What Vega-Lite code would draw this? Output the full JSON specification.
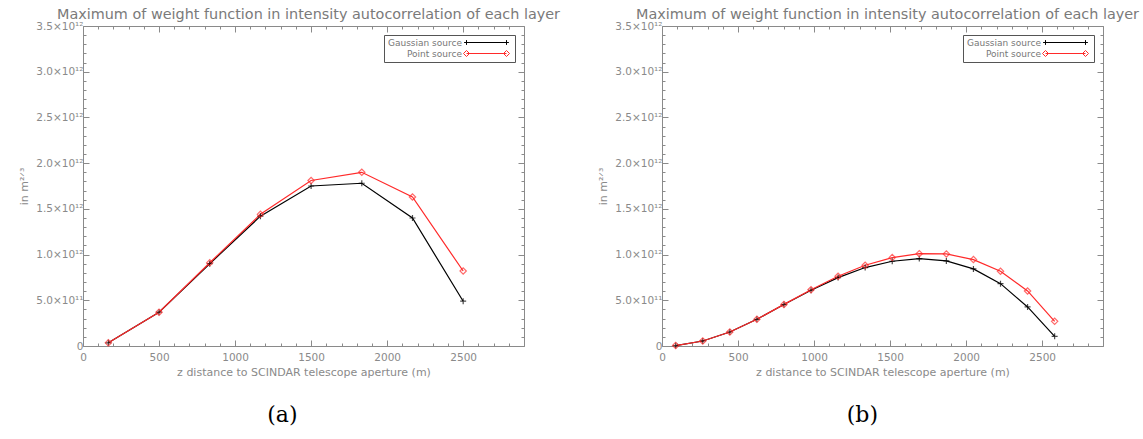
{
  "$schema": "https://vega.github.io/schema/vega-lite/v6.json",
  "background": "white",
  "padding": {"left": 18, "top": 6, "right": 0, "bottom": 5},
  "spacing": 36,
  "resolve": {"scale": {"color": "independent"}, "legend": {"color": "independent"}},
  "config": {
    "font": "DejaVu Sans",
    "view": {"stroke": null},
    "axis": {
      "grid": false,
      "domainColor": "#8a8a8a",
      "tickColor": "#8a8a8a",
      "labelColor": "#8a8a8a",
      "titleColor": "#8a8a8a",
      "labelFont": "DejaVu Sans",
      "titleFont": "DejaVu Sans",
      "labelFontSize": 10.5,
      "titleFontSize": 11,
      "titleFontWeight": "normal",
      "labelOverlap": false,
      "labelFlush": false,
      "domainWidth": 1,
      "tickWidth": 1
    },
    "legend": {
      "labelFont": "DejaVu Sans",
      "labelFontSize": 9,
      "labelColor": "#777777"
    }
  },
  "datasets": {
    "a": [
      {"z": 166.7, "w": 3.5e10, "series": "Gaussian source"},
      {"z": 500, "w": 3.7e11, "series": "Gaussian source"},
      {"z": 833.3, "w": 9.0e11, "series": "Gaussian source"},
      {"z": 1166.7, "w": 1.42e12, "series": "Gaussian source"},
      {"z": 1500, "w": 1.75e12, "series": "Gaussian source"},
      {"z": 1833.3, "w": 1.78e12, "series": "Gaussian source"},
      {"z": 2166.7, "w": 1.40e12, "series": "Gaussian source"},
      {"z": 2500, "w": 4.9e11, "series": "Gaussian source"},
      {"z": 166.7, "w": 3.5e10, "series": "Point source"},
      {"z": 500, "w": 3.7e11, "series": "Point source"},
      {"z": 833.3, "w": 9.1e11, "series": "Point source"},
      {"z": 1166.7, "w": 1.44e12, "series": "Point source"},
      {"z": 1500, "w": 1.81e12, "series": "Point source"},
      {"z": 1833.3, "w": 1.90e12, "series": "Point source"},
      {"z": 2166.7, "w": 1.63e12, "series": "Point source"},
      {"z": 2500, "w": 8.2e11, "series": "Point source"}
    ],
    "b": [
      {"z": 90, "w": 5e9, "series": "Gaussian source"},
      {"z": 268, "w": 5.5e10, "series": "Gaussian source"},
      {"z": 446, "w": 1.53e11, "series": "Gaussian source"},
      {"z": 624, "w": 2.92e11, "series": "Gaussian source"},
      {"z": 802, "w": 4.53e11, "series": "Gaussian source"},
      {"z": 980, "w": 6.1e11, "series": "Gaussian source"},
      {"z": 1158, "w": 7.48e11, "series": "Gaussian source"},
      {"z": 1336, "w": 8.58e11, "series": "Gaussian source"},
      {"z": 1514, "w": 9.27e11, "series": "Gaussian source"},
      {"z": 1692, "w": 9.56e11, "series": "Gaussian source"},
      {"z": 1870, "w": 9.31e11, "series": "Gaussian source"},
      {"z": 2048, "w": 8.43e11, "series": "Gaussian source"},
      {"z": 2226, "w": 6.82e11, "series": "Gaussian source"},
      {"z": 2404, "w": 4.27e11, "series": "Gaussian source"},
      {"z": 2582, "w": 1.06e11, "series": "Gaussian source"},
      {"z": 90, "w": 5e9, "series": "Point source"},
      {"z": 268, "w": 5.5e10, "series": "Point source"},
      {"z": 446, "w": 1.53e11, "series": "Point source"},
      {"z": 624, "w": 2.92e11, "series": "Point source"},
      {"z": 802, "w": 4.55e11, "series": "Point source"},
      {"z": 980, "w": 6.15e11, "series": "Point source"},
      {"z": 1158, "w": 7.63e11, "series": "Point source"},
      {"z": 1336, "w": 8.83e11, "series": "Point source"},
      {"z": 1514, "w": 9.67e11, "series": "Point source"},
      {"z": 1692, "w": 1.01e12, "series": "Point source"},
      {"z": 1870, "w": 1.007e12, "series": "Point source"},
      {"z": 2048, "w": 9.45e11, "series": "Point source"},
      {"z": 2226, "w": 8.18e11, "series": "Point source"},
      {"z": 2404, "w": 6.02e11, "series": "Point source"},
      {"z": 2582, "w": 2.7e11, "series": "Point source"}
    ]
  },
  "hconcat": [
    {
      "title": {"text": "(a)", "orient": "bottom", "anchor": "middle", "dx": -7, "font": "DejaVu Serif", "fontSize": 22, "fontWeight": "normal", "color": "#000000", "offset": 27},
      "resolve": {"scale": {"color": "independent"}, "legend": {"color": "independent"}},
      "vconcat": [
        {
          "width": 441, "height": 320,
          "title": {"text": "Maximum of weight function in intensity autocorrelation of each layer", "fontSize": 14.4, "fontWeight": "normal", "color": "#7a7a7a", "offset": -1, "anchor": "middle", "dx": 5},
          "data": {"name": "a"},
          "layer": [
            {
              "mark": {"type": "line", "strokeWidth": 1.2},
              "encoding": {
                "x": {"field": "z", "type": "quantitative", "scale": {"domain": [0, 2900], "nice": false, "zero": false},
                  "axis": {"orient": "bottom", "title": "z distance to SCINDAR telescope aperture (m)", "titlePadding": 1,
                    "values": [0,100,200,300,400,500,600,700,800,900,1000,1100,1200,1300,1400,1500,1600,1700,1800,1900,2000,2100,2200,2300,2400,2500,2600,2700,2800,2900],
                    "tickSize": {"condition": {"test": "datum.value % 500 === 0", "value": -6}, "value": -3},
                    "labelPadding": 12,
                    "labelExpr": "datum.value % 500 === 0 && datum.value < 2900 ? format(datum.value, 'd') : ''"}},
                "y": {"field": "w", "type": "quantitative", "scale": {"domain": [0, 3.5e12], "nice": false},
                  "axis": {"orient": "left", "title": "in m²ᐟ³", "titlePadding": 6,
                    "values": [0,1e11,2e11,3e11,4e11,5e11,6e11,7e11,8e11,9e11,1e12,1.1e12,1.2e12,1.3e12,1.4e12,1.5e12,1.6e12,1.7e12,1.8e12,1.9e12,2e12,2.1e12,2.2e12,2.3e12,2.4e12,2.5e12,2.6e12,2.7e12,2.8e12,2.9e12,3e12,3.1e12,3.2e12,3.3e12,3.4e12,3.5e12],
                    "tickSize": {"condition": {"test": "datum.value % 5e11 === 0", "value": -6}, "value": -3},
                    "labelPadding": 6,
                    "labelExpr": "datum.value === 0 ? '0' : datum.value % 5e11 !== 0 ? '' : datum.value < 1e12 ? format(datum.value / 1e11, '.1f') + '×10¹¹' : format(datum.value / 1e12, '.1f') + '×10¹²'"}},
                "color": {"field": "series", "type": "nominal",
                  "scale": {"domain": ["Gaussian source", "Point source"], "range": ["#000000", "#ff2a2a"]},
                  "legend": {"title": null, "orient": "top-right", "offset": 9, "strokeColor": "#555555", "fillColor": "white", "padding": 3,
                    "symbolSize": 64, "symbolStrokeWidth": 1, "symbolFillColor": "transparent", "rowPadding": 0,
                    "labelOffset": 18, "symbolOffset": 95,
                    "encode": {
                      "labels": {"update": {"align": {"value": "right"}, "x": {"value": 75}}},
                      "symbols": {"update": {
                        "stroke": {"signal": "datum.value === 'Point source' ? '#ff2a2a' : '#000000'"},
                        "shape": {"signal": "datum.value === 'Gaussian source' ? 'M-5,0H5M-5,-0.6V0.6M5,-0.6V0.6M-5.6,0H-4.4M4.4,0H5.6' : 'M-5,0H5M-5.75,0L-5,-0.75L-4.25,0L-5,0.75ZM4.25,0L5,-0.75L5.75,0L5,0.75Z'"}}}}}}
              }
            },
            {
              "transform": [{"filter": "datum.series === 'Gaussian source'"}],
              "mark": {"type": "point", "filled": false, "strokeWidth": 1.2, "size": 36, "shape": "M-1,0H1M0,-1V1", "stroke": "#000000"},
              "encoding": {
                "x": {"field": "z", "type": "quantitative",
                  "axis": {"orient": "top", "title": null, "labels": false,
                    "values": [0,100,200,300,400,500,600,700,800,900,1000,1100,1200,1300,1400,1500,1600,1700,1800,1900,2000,2100,2200,2300,2400,2500,2600,2700,2800,2900],
                    "tickSize": {"condition": {"test": "datum.value % 500 === 0", "value": -6}, "value": -3}}},
                "y": {"field": "w", "type": "quantitative",
                  "axis": {"orient": "right", "title": null, "labels": false,
                    "values": [0,1e11,2e11,3e11,4e11,5e11,6e11,7e11,8e11,9e11,1e12,1.1e12,1.2e12,1.3e12,1.4e12,1.5e12,1.6e12,1.7e12,1.8e12,1.9e12,2e12,2.1e12,2.2e12,2.3e12,2.4e12,2.5e12,2.6e12,2.7e12,2.8e12,2.9e12,3e12,3.1e12,3.2e12,3.3e12,3.4e12,3.5e12],
                    "tickSize": {"condition": {"test": "datum.value % 5e11 === 0", "value": -6}, "value": -3}}}
              }
            },
            {
              "transform": [{"filter": "datum.series === 'Point source'"}],
              "mark": {"type": "point", "filled": false, "strokeWidth": 1.2, "size": 40, "shape": "diamond", "stroke": "#ff2a2a"},
              "encoding": {
                "x": {"field": "z", "type": "quantitative", "axis": null},
                "y": {"field": "w", "type": "quantitative", "axis": null}
              }
            }
          ],
          "resolve": {"axis": {"x": "independent", "y": "independent"}}
        }
      ]
    },
    {
      "title": {"text": "(b)", "orient": "bottom", "anchor": "middle", "dx": -6, "font": "DejaVu Serif", "fontSize": 22, "fontWeight": "normal", "color": "#000000", "offset": 27},
      "resolve": {"scale": {"color": "independent"}, "legend": {"color": "independent"}},
      "vconcat": [
        {
          "width": 441, "height": 320,
          "title": {"text": "Maximum of weight function in intensity autocorrelation of each layer", "fontSize": 14.4, "fontWeight": "normal", "color": "#7a7a7a", "offset": -1, "anchor": "middle", "dx": 5},
          "data": {"name": "b"},
          "layer": [
            {
              "mark": {"type": "line", "strokeWidth": 1.2},
              "encoding": {
                "x": {"field": "z", "type": "quantitative", "scale": {"domain": [0, 2900], "nice": false, "zero": false},
                  "axis": {"orient": "bottom", "title": "z distance to SCINDAR telescope aperture (m)", "titlePadding": 1,
                    "values": [0,100,200,300,400,500,600,700,800,900,1000,1100,1200,1300,1400,1500,1600,1700,1800,1900,2000,2100,2200,2300,2400,2500,2600,2700,2800,2900],
                    "tickSize": {"condition": {"test": "datum.value % 500 === 0", "value": -6}, "value": -3},
                    "labelPadding": 12,
                    "labelExpr": "datum.value % 500 === 0 && datum.value < 2900 ? format(datum.value, 'd') : ''"}},
                "y": {"field": "w", "type": "quantitative", "scale": {"domain": [0, 3.5e12], "nice": false},
                  "axis": {"orient": "left", "title": "in m²ᐟ³", "titlePadding": 6,
                    "values": [0,1e11,2e11,3e11,4e11,5e11,6e11,7e11,8e11,9e11,1e12,1.1e12,1.2e12,1.3e12,1.4e12,1.5e12,1.6e12,1.7e12,1.8e12,1.9e12,2e12,2.1e12,2.2e12,2.3e12,2.4e12,2.5e12,2.6e12,2.7e12,2.8e12,2.9e12,3e12,3.1e12,3.2e12,3.3e12,3.4e12,3.5e12],
                    "tickSize": {"condition": {"test": "datum.value % 5e11 === 0", "value": -6}, "value": -3},
                    "labelPadding": 6,
                    "labelExpr": "datum.value === 0 ? '0' : datum.value % 5e11 !== 0 ? '' : datum.value < 1e12 ? format(datum.value / 1e11, '.1f') + '×10¹¹' : format(datum.value / 1e12, '.1f') + '×10¹²'"}},
                "color": {"field": "series", "type": "nominal",
                  "scale": {"domain": ["Gaussian source", "Point source"], "range": ["#000000", "#ff2a2a"]},
                  "legend": {"title": null, "orient": "top-right", "offset": 9, "strokeColor": "#555555", "fillColor": "white", "padding": 3,
                    "symbolSize": 64, "symbolStrokeWidth": 1, "symbolFillColor": "transparent", "rowPadding": 0,
                    "labelOffset": 18, "symbolOffset": 95,
                    "encode": {
                      "labels": {"update": {"align": {"value": "right"}, "x": {"value": 75}}},
                      "symbols": {"update": {
                        "stroke": {"signal": "datum.value === 'Point source' ? '#ff2a2a' : '#000000'"},
                        "shape": {"signal": "datum.value === 'Gaussian source' ? 'M-5,0H5M-5,-0.6V0.6M5,-0.6V0.6M-5.6,0H-4.4M4.4,0H5.6' : 'M-5,0H5M-5.75,0L-5,-0.75L-4.25,0L-5,0.75ZM4.25,0L5,-0.75L5.75,0L5,0.75Z'"}}}}}}
              }
            },
            {
              "transform": [{"filter": "datum.series === 'Gaussian source'"}],
              "mark": {"type": "point", "filled": false, "strokeWidth": 1.2, "size": 36, "shape": "M-1,0H1M0,-1V1", "stroke": "#000000"},
              "encoding": {
                "x": {"field": "z", "type": "quantitative",
                  "axis": {"orient": "top", "title": null, "labels": false,
                    "values": [0,100,200,300,400,500,600,700,800,900,1000,1100,1200,1300,1400,1500,1600,1700,1800,1900,2000,2100,2200,2300,2400,2500,2600,2700,2800,2900],
                    "tickSize": {"condition": {"test": "datum.value % 500 === 0", "value": -6}, "value": -3}}},
                "y": {"field": "w", "type": "quantitative",
                  "axis": {"orient": "right", "title": null, "labels": false,
                    "values": [0,1e11,2e11,3e11,4e11,5e11,6e11,7e11,8e11,9e11,1e12,1.1e12,1.2e12,1.3e12,1.4e12,1.5e12,1.6e12,1.7e12,1.8e12,1.9e12,2e12,2.1e12,2.2e12,2.3e12,2.4e12,2.5e12,2.6e12,2.7e12,2.8e12,2.9e12,3e12,3.1e12,3.2e12,3.3e12,3.4e12,3.5e12],
                    "tickSize": {"condition": {"test": "datum.value % 5e11 === 0", "value": -6}, "value": -3}}}
              }
            },
            {
              "transform": [{"filter": "datum.series === 'Point source'"}],
              "mark": {"type": "point", "filled": false, "strokeWidth": 1.2, "size": 40, "shape": "diamond", "stroke": "#ff2a2a"},
              "encoding": {
                "x": {"field": "z", "type": "quantitative", "axis": null},
                "y": {"field": "w", "type": "quantitative", "axis": null}
              }
            }
          ],
          "resolve": {"axis": {"x": "independent", "y": "independent"}}
        }
      ]
    }
  ]
}
